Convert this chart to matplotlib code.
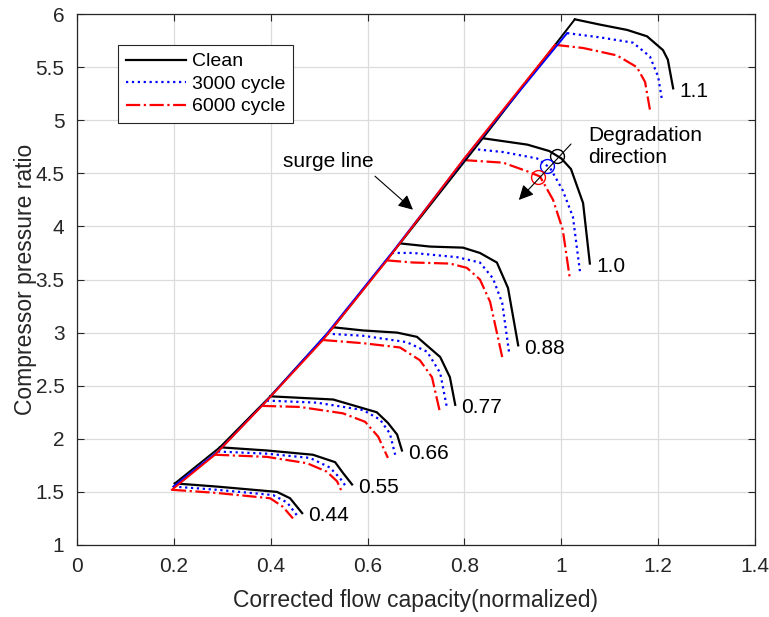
import matplotlib
matplotlib.use('Agg')
import matplotlib.pyplot as plt
from matplotlib.lines import Line2D

plt.rcParams['font.family'] = ['Liberation Sans', 'DejaVu Sans']

# Velocidades corregidas (etiquetas de cada línea)
speeds = ['1.1', '1.0', '0.88', '0.77', '0.66', '0.55', '0.44']

# Compresor limpio
clean_x = [
    [1.028, 1.08, 1.136, 1.177, 1.21, 1.22, 1.231],
    [0.838, 0.93, 0.975, 1.0, 1.02, 1.045, 1.059],
    [0.667, 0.729, 0.797, 0.832, 0.867, 0.89, 0.911],
    [0.529, 0.591, 0.661, 0.702, 0.75, 0.77, 0.781],
    [0.399, 0.529, 0.619, 0.642, 0.661, 0.671],
    [0.295, 0.392, 0.487, 0.533, 0.549, 0.568],
    [0.202, 0.289, 0.413, 0.44, 0.465],
]
clean_y = [
    [5.95, 5.90, 5.85, 5.79, 5.66, 5.57, 5.30],
    [4.83, 4.77, 4.71, 4.64, 4.54, 4.22, 3.65],
    [3.84, 3.81, 3.80, 3.75, 3.66, 3.42, 2.88],
    [3.05, 3.02, 3.00, 2.96, 2.77, 2.58, 2.32],
    [2.40, 2.37, 2.25, 2.15, 2.04, 1.89],
    [1.92, 1.89, 1.85, 1.78, 1.68, 1.57],
    [1.58, 1.55, 1.50, 1.44, 1.30],
]

# 3000 ciclos
c3000_x = [
    [1.012, 1.08, 1.148, 1.183, 1.20, 1.208],
    [0.816, 0.88, 0.95, 0.977, 1.003, 1.024, 1.039],
    [0.65, 0.694, 0.785, 0.832, 0.859, 0.878, 0.892],
    [0.516, 0.591, 0.681, 0.723, 0.75, 0.764],
    [0.392, 0.496, 0.591, 0.626, 0.646, 0.657],
    [0.291, 0.392, 0.481, 0.522, 0.543, 0.557],
    [0.199, 0.289, 0.405, 0.434, 0.454],
]
c3000_y = [
    [5.82, 5.78, 5.73, 5.60, 5.41, 5.19],
    [4.73, 4.70, 4.64, 4.55, 4.34, 4.09, 3.56],
    [3.75, 3.75, 3.71, 3.66, 3.51, 3.28, 2.82],
    [2.99, 2.97, 2.91, 2.82, 2.62, 2.29],
    [2.36, 2.34, 2.27, 2.18, 2.05, 1.85],
    [1.88, 1.86, 1.82, 1.73, 1.63, 1.54],
    [1.55, 1.52, 1.47, 1.40, 1.28],
]

# 6000 ciclos
c6000_x = [
    [0.987, 1.045, 1.115, 1.156, 1.173, 1.183],
    [0.797, 0.88, 0.935, 0.956, 0.983, 1.003, 1.018],
    [0.64, 0.694, 0.77, 0.805, 0.832, 0.853, 0.878],
    [0.508, 0.591, 0.667, 0.708, 0.733, 0.75],
    [0.382, 0.46, 0.549, 0.595, 0.622, 0.642],
    [0.285, 0.392, 0.475, 0.516, 0.537, 0.547],
    [0.196, 0.289, 0.399, 0.425, 0.446],
]
c6000_y = [
    [5.71, 5.68, 5.61, 5.50, 5.36, 5.10],
    [4.625, 4.60, 4.51, 4.47, 4.25, 3.97, 3.50],
    [3.68, 3.66, 3.65, 3.61, 3.50, 3.29, 2.77],
    [2.93, 2.90, 2.86, 2.74, 2.58, 2.24],
    [2.31, 2.30, 2.24, 2.16, 2.02, 1.82],
    [1.85, 1.83, 1.77, 1.69, 1.60, 1.50],
    [1.52, 1.49, 1.44, 1.36, 1.25],
]

# Puntos marcados (círculos) sobre la línea 1.0
mark_x = [0.991, 0.9705, 0.952]
mark_y = [4.663, 4.57, 4.465]

# Anotaciones
degr_arrow = [(1.024, 4.795), (0.9085, 4.23)]
degr_text = (1.055, 4.755)
surge_arrow = [(0.611, 4.49), (0.698, 4.14)]
surge_text = (0.425, 4.61)

series = [
    ('Clean', clean_x, clean_y, 'black', '-'),
    ('3000 cycle', c3000_x, c3000_y, 'blue', ':'),
    ('6000 cycle', c6000_x, c6000_y, 'red', '-.'),
]

fig = plt.figure(figsize=(7.69, 6.17), dpi=100)
ax = fig.add_axes([0.1001, 0.1167, 0.8817, 0.8606])

for name, xs, ys, col, ls in series:
    for xx, yy in zip(xs, ys):
        ax.plot(xx, yy, color=col, ls=ls, lw=1.6)
for name, xs, ys, col, ls in series:
    # línea de surge: une los puntos iniciales de cada velocidad
    ax.plot([xx[0] for xx in xs], [yy[0] for yy in ys], color=col, ls='-', lw=1.4)

# Etiquetas de velocidad al final de la curva limpia
for lab, xx, yy in zip(speeds, clean_x, clean_y):
    ax.annotate(lab, (xx[-1], yy[-1]), xytext=(4.5, -2), textcoords='offset points',
                ha='left', va='center', fontsize=15)

for mx, my, col in zip(mark_x, mark_y, ['black', 'blue', 'red']):
    ax.plot(mx, my, 'o', mfc='none', mec=col, ms=10, mew=1.0)

ax.annotate('', xy=degr_arrow[1], xytext=degr_arrow[0],
            arrowprops=dict(arrowstyle='-|>', color='black', lw=0.8, mutation_scale=22))
ax.text(degr_text[0], degr_text[1], 'Degradation\ndirection', ha='left', va='center',
        fontsize=15, linespacing=1.2)
ax.annotate('', xy=surge_arrow[1], xytext=surge_arrow[0],
            arrowprops=dict(arrowstyle='-|>', color='black', lw=0.8, mutation_scale=22))
ax.text(surge_text[0], surge_text[1], 'surge line', ha='left', va='center', fontsize=15)

ax.set_xlim(0, 1.4)
ax.set_ylim(1, 6)
ax.set_xticks([0, 0.2, 0.4, 0.6, 0.8, 1.0, 1.2, 1.4])
ax.set_xticklabels(['0', '0.2', '0.4', '0.6', '0.8', '1', '1.2', '1.4'])
ax.set_yticks([1, 1.5, 2, 2.5, 3, 3.5, 4, 4.5, 5, 5.5, 6])
ax.set_yticklabels(['1', '1.5', '2', '2.5', '3', '3.5', '4', '4.5', '5', '5.5', '6'])
ax.tick_params(direction='in', top=True, right=True, labelsize=15, colors='#262626', length=5)
ax.tick_params(axis='x', pad=9)
ax.tick_params(axis='y', pad=9)
ax.grid(True, color='#dcdcdc', lw=0.9)
ax.set_axisbelow(True)
for s in ax.spines.values():
    s.set_color('#262626')
    s.set_linewidth(0.9)
ax.set_xlabel('Corrected flow capacity(normalized)', fontsize=16.5, color='#262626', labelpad=9)
ax.set_ylabel('Compressor pressure ratio', fontsize=16.5, color='#262626', labelpad=-1)

handles = [Line2D([], [], color=c, ls=l, lw=1.6) for _, _, _, c, l in series]
leg = ax.legend(handles, [s[0] for s in series], loc='upper left',
                bbox_to_anchor=(0.0605, 0.9416), borderaxespad=0, fontsize=14,
                handlelength=3.1, labelspacing=0.25, borderpad=0.4,
                handletextpad=0.3, fancybox=False, framealpha=1)
leg.get_frame().set_edgecolor('#262626')
leg.get_frame().set_linewidth(0.8)

fig.savefig('out.png', dpi=100)
